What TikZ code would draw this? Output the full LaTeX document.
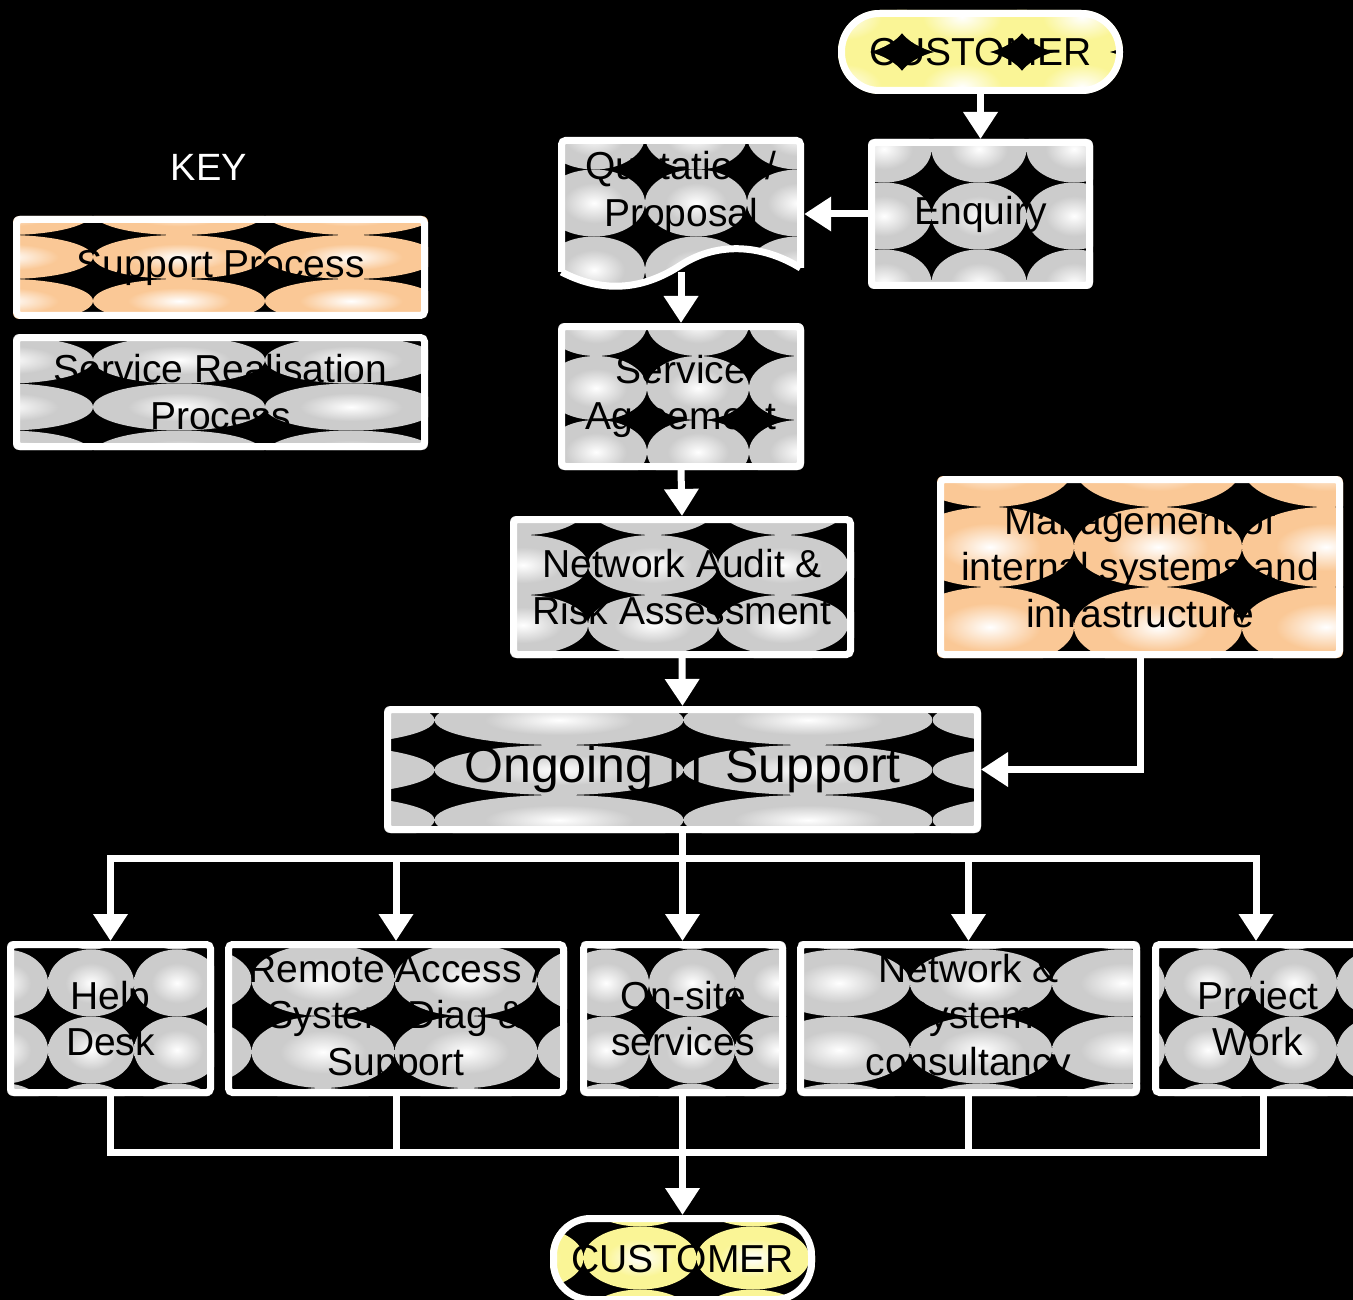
\documentclass[tikz,border=0pt]{standalone}
\usepackage{fontspec}
\setmainfont{Liberation Sans}
\usetikzlibrary{arrows.meta,calc}
\pgfdeclarelayer{bg}
\pgfdeclarelayer{pat}
\pgfsetlayers{bg,pat,main}
\definecolor{tgray}{RGB}{204,204,204}
\definecolor{torange}{RGB}{250,200,150}
\definecolor{tyellow}{RGB}{250,245,150}
\pgfdeclareradialshading{sh-tgray}{\pgfpoint{0bp}{0bp}}{color(0bp)=(white); color(15bp)=(tgray); color(50bp)=(tgray)}
\pgfdeclareradialshading{sh-torange}{\pgfpoint{0bp}{0bp}}{color(0bp)=(white); color(15bp)=(torange); color(50bp)=(torange)}
\pgfdeclareradialshading{sh-tyellow}{\pgfpoint{0bp}{0bp}}{color(0bp)=(white); color(15bp)=(tyellow); color(50bp)=(tyellow)}
% #1 node, #2 colour, #3 cx, #4 cy, #5 cw, #6 ch, #7 corner radius, #8 size factor
\newcommand\tilebox[8]{%
  \begin{pgfonlayer}{pat}
  \begin{scope}
    \clip[rounded corners=#7] (#1.south west) rectangle (#1.north east);
    \foreach \i in {-3,...,3}{\foreach \j in {-3,...,3}{
      \shade[shading=sh-#2] ({#3+\i*#5},{#4+\j*#6}) ellipse [x radius={#5*#8*0.5pt}, y radius={#6*#8*0.5pt}];
    }}
  \end{scope}
  \end{pgfonlayer}}
\tikzset{
  box/.style={draw=white, line width=7pt, rounded corners=4pt, inner sep=0pt, align=center,
    font=\fontsize{39}{46.5}\selectfont, text=black},
  pill/.style={box, rounded corners=#1},
  wl/.style={draw=white, line width=7pt, line join=miter},
  arr/.style={wl, -{Triangle[width=33pt,length=27pt]}},
}
\begin{document}
\begin{tikzpicture}[x=1pt,y=-1pt]
\begin{pgfonlayer}{bg}
\fill[black] (0,0) rectangle (1353,1300);
\end{pgfonlayer}
\useasboundingbox (0,0) rectangle (1353,1300);

% key
\node[text=white, font=\fontsize{38}{45}\selectfont] (key) at (209,167) {KEY};
\node[box, minimum width=408pt, minimum height=96pt] (ksup) at (220.5,267.5) {Support Process};
\tilebox{ksup}{torange}{179}{257}{172}{44}{6pt}{1}
\node[box, minimum width=408pt, minimum height=109pt] (kser) at (220.5,392) {Service Realisation\\Process};
\tilebox{kser}{tgray}{179}{407}{172}{47}{6pt}{1}

% main flow
\node[pill=38pt, minimum width=278pt, minimum height=77pt] (tcust) at (980.5,52) {CUSTOMER};
\tilebox{tcust}{tyellow}{962}{87}{120}{70}{42pt}{1.1}
\node[box, minimum width=218pt, minimum height=143pt] (enq) at (980.5,214) {Enquiry};
\tilebox{enq}{tgray}{979}{216}{95}{67}{6pt}{1}

% quotation document shape
\node[align=center, inner sep=0pt, minimum width=246pt, minimum height=112pt,
  font=\fontsize{39}{46.5}\selectfont] (quot) at (681,193) {Quotation /\\Proposal};
\coordinate (qbot) at (681,272);
\begin{pgfonlayer}{pat}
\begin{scope}
  \clip (561.5,140.5) -- (800.5,140.5) -- (800.5,268)
     .. controls (765,246) and (720,240) .. (681,265)
     .. controls (640,292) and (600,292) .. (561.5,272) -- cycle;
  \foreach \i in {-3,...,3}{\foreach \j in {-3,...,3}{
    \shade[shading=sh-tgray] ({696+\i*102},{203+\j*67}) ellipse [x radius=51pt, y radius=33.5pt];
  }}
\end{scope}
\end{pgfonlayer}
\draw[wl, rounded corners=4pt] (561.5,272) -- (561.5,140.5) -- (800.5,140.5) -- (800.5,268);
\draw[wl] (800.5,268) .. controls (765,246) and (720,240) .. (681,265)
     .. controls (640,292) and (600,292) .. (561.5,272);

\node[box, minimum width=239pt, minimum height=140pt] (sagr) at (681,396.5) {Service\\Agreement};
\tilebox{sagr}{tgray}{698}{388}{102}{64}{6pt}{1}
\node[box, minimum width=337pt, minimum height=135pt] (naud) at (682,587) {Network Audit \&\\Risk Assessment};
\tilebox{naud}{tgray}{653}{565}{130}{60}{6pt}{1}
\node[box, minimum width=399pt, minimum height=175pt] (mgmt) at (1140,567) {Management of\\internal systems and\\infrastructure};
\tilebox{mgmt}{torange}{1158}{547}{168}{80}{6pt}{1}
\node[box, minimum width=590pt, minimum height=120pt, font=\fontsize{50}{58}\selectfont] (ongo) at (682.5,769.5) {Ongoing IT Support};
\tilebox{ongo}{tgray}{559}{770}{249}{50}{6pt}{1}

% bottom row
\node[box, minimum width=200pt, minimum height=148pt] (help) at (110.5,1018.5) {Help\\Desk};
\tilebox{help}{tgray}{91}{983}{86}{67}{6pt}{1}
\node[box, minimum width=335pt, minimum height=148pt] (remote) at (396,1018.5) {Remote Access /\\System Diag \&\\Support};
\tilebox{remote}{tgray}{323}{980}{143}{72}{6pt}{1}
\node[box, minimum width=199pt, minimum height=148pt] (onsite) at (683,1018.5) {On-site\\services};
\tilebox{onsite}{tgray}{692}{983}{86}{67}{6pt}{1}
\node[box, minimum width=336pt, minimum height=148pt] (netsys) at (968.5,1018.5) {Network \&\\System\\consultancy};
\tilebox{netsys}{tgray}{981}{983}{142}{67}{6pt}{1}
\node[box, minimum width=205pt, minimum height=148pt] (project) at (1258,1018.5) {Project\\Work};
\tilebox{project}{tgray}{1208}{983}{86}{67}{6pt}{1}

\node[pill=37pt, minimum width=258pt, minimum height=81pt] (bcust) at (682.5,1259) {CUSTOMER};
\tilebox{bcust}{tyellow}{640}{1258}{113}{63}{41pt}{1}

% connectors
\draw[arr] (tcust.south) -- (enq.north);
\draw[arr] (enq.west) -- (enq.west -| quot.east);
\draw[arr] (qbot) -- (sagr.north);
\draw[arr] (sagr.south) -- (naud.north);
\draw[arr] (naud.south) -- (ongo.north);
\draw[arr] (mgmt.south) |- (ongo.east);
\coordinate (tbus) at (682.5,858);
\draw[wl] (ongo.south) -- (tbus);
\draw[arr] (tbus) -| (help.north);
\draw[arr] (tbus) -| (remote.north);
\draw[arr] (tbus) -- (onsite.north -| tbus);
\draw[arr] (tbus) -| (netsys.north);
\draw[arr] (tbus) -| ([xshift=-2pt]project.north);
\coordinate (bbus) at (682.5,1152);
\draw[wl] (help.south) |- (bbus);
\draw[wl] ([xshift=5pt]project.south) |- (bbus);
\draw[wl] (remote.south) -- (remote.south |- bbus);
\draw[wl] (netsys.south) -- (netsys.south |- bbus);
\draw[arr] (onsite.south -| bbus) -- (bcust.north);
\end{tikzpicture}
\end{document}
